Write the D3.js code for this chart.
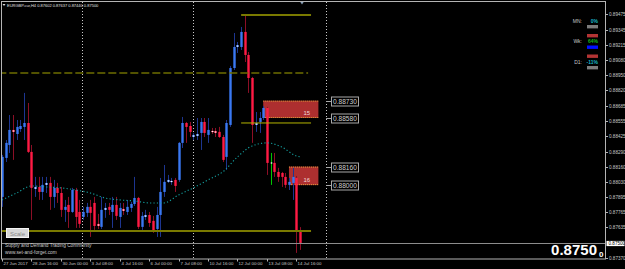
<!DOCTYPE html>
<html>
<head>
<meta charset="utf-8">
<script src="https://cdn.jsdelivr.net/npm/d3@7"></script>
<style>
  html, body { margin: 0; padding: 0; background: #000; }
  svg { display: block; }
  text { font-family: "Liberation Sans", Arial, sans-serif; }
</style>
</head>
<body>
<svg id="chart" width="625" height="269"></svg>
<script>
// EURGBP H4, 27 Jun 08:00 .. 14 Jul 20:00
const symbol = 'EURGBP.cur,H4'

const opens = [
  0.87898, 0.88235, 0.88347, 0.88477, 0.88442, 0.88485, 0.88503, 0.88537, 0.88287, 0.87967,
  0.87984, 0.87941, 0.88002, 0.88019, 0.87898, 0.87976, 0.87932, 0.87786, 0.87829, 0.87768,
  0.87958, 0.87768, 0.87725, 0.87760, 0.87812, 0.87846, 0.87665, 0.87639, 0.87786, 0.87812,
  0.87768, 0.87829, 0.87725, 0.87794, 0.87768, 0.87803, 0.87837, 0.87889, 0.87639, 0.87725,
  0.87742, 0.87691, 0.87621, 0.87742, 0.87941, 0.88028, 0.88028, 0.88045, 0.88045, 0.88365,
  0.88537, 0.88511, 0.88416, 0.88425, 0.88451, 0.88546, 0.88434, 0.88468, 0.88468, 0.88460,
  0.88416, 0.88244, 0.88520, 0.89012, 0.89194, 0.89194, 0.89324, 0.89125, 0.88926, 0.88520,
  0.88546, 0.88580, 0.88667, 0.88192, 0.88192, 0.88114, 0.88105, 0.88071, 0.88002, 0.88019,
  0.88062, 0.87602
]
const highs = [
  0.88261, 0.88390, 0.88606, 0.88606, 0.88563, 0.88563, 0.88797, 0.88710, 0.88347, 0.88071,
  0.88071, 0.88071, 0.88071, 0.88071, 0.88045, 0.88019, 0.87984, 0.87872, 0.87898, 0.87976,
  0.87976, 0.87872, 0.87812, 0.87846, 0.87872, 0.87898, 0.87751, 0.87898, 0.87846, 0.87846,
  0.87898, 0.87898, 0.87846, 0.87846, 0.87872, 0.87855, 0.88071, 0.87898, 0.87768, 0.87786,
  0.87768, 0.87734, 0.87812, 0.88062, 0.88174, 0.88088, 0.88062, 0.88062, 0.88373, 0.88589,
  0.88546, 0.88546, 0.88451, 0.88580, 0.88580, 0.88580, 0.88580, 0.88494, 0.88494, 0.88503,
  0.88434, 0.88563, 0.89030, 0.89315, 0.89237, 0.89367, 0.89470, 0.89151, 0.88935, 0.88632,
  0.88632, 0.88684, 0.88676, 0.88278, 0.88278, 0.88149, 0.88114, 0.88105, 0.88062, 0.88149,
  0.88079, 0.87637
]
const lows = [
  0.87812, 0.88200, 0.88278, 0.88218, 0.88390, 0.88460, 0.88390, 0.88278, 0.87699, 0.87898,
  0.87872, 0.87872, 0.87932, 0.87786, 0.87803, 0.87846, 0.87725, 0.87682, 0.87630, 0.87760,
  0.87630, 0.87630, 0.87699, 0.87725, 0.87552, 0.87613, 0.87621, 0.87621, 0.87717, 0.87742,
  0.87630, 0.87699, 0.87630, 0.87742, 0.87742, 0.87768, 0.87820, 0.87621, 0.87613, 0.87699,
  0.87639, 0.87587, 0.87552, 0.87552, 0.87898, 0.88019, 0.88002, 0.87941, 0.88028, 0.88321,
  0.88365, 0.88416, 0.88390, 0.88390, 0.88304, 0.88416, 0.88365, 0.88442, 0.88416, 0.88408,
  0.88200, 0.88131, 0.88503, 0.88995, 0.89142, 0.89168, 0.89064, 0.88797, 0.88365, 0.88460,
  0.88451, 0.88563, 0.88088, 0.88002, 0.88071, 0.88028, 0.87984, 0.87976, 0.87958, 0.87872,
  0.87414, 0.87440
]
const closes = [
  0.88244, 0.88365, 0.88477, 0.88460, 0.88503, 0.88511, 0.88537, 0.88287, 0.87976, 0.87984,
  0.87941, 0.88002, 0.88019, 0.87898, 0.87976, 0.87932, 0.87786, 0.87812, 0.87768, 0.87958,
  0.87725, 0.87665, 0.87768, 0.87812, 0.87760, 0.87647, 0.87647, 0.87786, 0.87803, 0.87786,
  0.87829, 0.87734, 0.87803, 0.87777, 0.87812, 0.87837, 0.87889, 0.87639, 0.87734, 0.87742,
  0.87673, 0.87604, 0.87742, 0.87941, 0.88028, 0.88045, 0.88036, 0.87993, 0.88365, 0.88537,
  0.88503, 0.88460, 0.88434, 0.88442, 0.88546, 0.88451, 0.88477, 0.88460, 0.88451, 0.88416,
  0.88218, 0.88537, 0.89012, 0.89194, 0.89211, 0.89324, 0.89125, 0.88926, 0.88520, 0.88537,
  0.88580, 0.88667, 0.88192, 0.88192, 0.88114, 0.88071, 0.88071, 0.88002, 0.88028, 0.88071,
  0.87596, 0.87500
]

// moving average, every 4th bar
const maBars = [0, 4, 8, 12, 16, 20, 24, 28, 32, 36, 40, 44, 48, 52, 56, 60, 64, 68, 72, 76, 80, 81]
const maValues = [
  0.87872, 0.87932, 0.87993, 0.87984, 0.87976, 0.87958, 0.87932, 0.87889, 0.87872, 0.87863,
  0.87846, 0.87846, 0.87915, 0.87976, 0.88045, 0.88114, 0.88244, 0.88339, 0.88365, 0.88330,
  0.88252, 0.88244
]

const timeLabels = ['27 Jun 2017', '28 Jun 16:00', '30 Jun 00:00', '3 Jul 08:00', '4 Jul 16:00',
  '6 Jul 00:00', '7 Jul 08:00', '10 Jul 16:00', '12 Jul 00:00', '13 Jul 08:00', '14 Jul 16:00']
const timeLabelBars = [0, 8, 16, 24, 32, 40, 48, 56, 64, 72, 80]

const priceTicks = [0.89475, 0.89345, 0.89215, 0.89080, 0.88950, 0.88820, 0.88685, 0.88555,
  0.88425, 0.88290, 0.88160, 0.88030, 0.87895, 0.87765, 0.87635, 0.87370]
const lastPrice = 0.87500

const weekStartBars = [21.8, 51.9, 88.1]

const levelNames = ['swingHigh', 'prevHigh', 'entry', 'swingLow']
const levelPrices = [0.89470, 0.88969, 0.88537, 0.87604]
const levelStart = [65, -1, 65, -1]
const levelEnd = [84, 83.2, 84, 84]

const zoneNames = ['15', '16']
const zoneTop = [0.88730, 0.88160]
const zoneBottom = [0.88580, 0.88000]
const zoneStart = [71, 78]
const zoneEnd = [86, 86]

const tagPrices = [0.88730, 0.88580, 0.88160, 0.88000]

const tfNames = ['MN:', 'Wk:', 'D1:']
const tfPercents = ['0%', '64%', '-11%']
const tfSignals = [['flat', 'down'], ['up', 'down'], ['flat']]

const svg = d3.select('#chart')
const W = 625
const H = 269
const plotRight = 605.5
const plotBottom = 259

svg.append('rect').attr('width', W).attr('height', H).attr('fill', '#000')

const x = d3.scaleLinear().domain([0, 81]).range([2, 300])
const y = d3.scaleLinear().domain([0.8737, 0.896]).range([258, 0])

svg.append('clipPath').attr('id', 'plot')
  .append('rect').attr('x', 1.5).attr('y', 1.5).attr('width', plotRight - 1.5).attr('height', plotBottom - 1.5)

const plot = svg.append('g').attr('clip-path', 'url(#plot)')

// week separators
plot.append('g').selectAll('line')
  .data(weekStartBars)
  .join('line')
  .attr('x1', d => Math.round(x(d)) + 0.5)
  .attr('x2', d => Math.round(x(d)) + 0.5)
  .attr('y1', 2)
  .attr('y2', plotBottom)
  .attr('stroke', '#c8c8c8')
  .attr('stroke-dasharray', '1,2')

// supply / demand zones
const zones = zoneNames.map((name, i) => ({ name, top: zoneTop[i], bottom: zoneBottom[i], start: zoneStart[i], end: zoneEnd[i] }))
const zoneG = plot.append('g').selectAll('g').data(zones).join('g')
zoneG.append('rect')
  .attr('x', d => x(d.start))
  .attr('y', d => y(d.top))
  .attr('width', d => x(d.end) - x(d.start))
  .attr('height', d => y(d.bottom) - y(d.top))
  .attr('fill', '#ad2f2f')
zoneG.append('line')
  .attr('x1', d => x(d.start)).attr('x2', d => x(d.end))
  .attr('y1', d => y(d.top) + 0.5).attr('y2', d => y(d.top) + 0.5)
  .attr('stroke', '#d9a03a').attr('stroke-dasharray', '1,1')
zoneG.append('line')
  .attr('x1', d => x(d.start)).attr('x2', d => x(d.end))
  .attr('y1', d => y(d.bottom) - 0.5).attr('y2', d => y(d.bottom) - 0.5)
  .attr('stroke', '#d9a03a').attr('stroke-dasharray', '1,1')
zoneG.append('text')
  .attr('x', d => x(d.end) - 15)
  .attr('y', d => y(d.bottom) - 3)
  .attr('font-size', 6)
  .attr('fill', '#f2d6d6')
  .text(d => d.name)

// candles
const bars = opens.map((o, i) => ({ i, o, h: highs[i], l: lows[i], c: closes[i] }))
const wickColor = d => d.c > d.o ? '#1d3590' : d.c < d.o ? '#8c0f26' : '#00c800'
const bodyColor = d => d.c > d.o ? '#3a78f2' : '#ff1a44'

const candle = plot.append('g').selectAll('g').data(bars).join('g')
candle.append('line')
  .attr('x1', d => Math.round(x(d.i)) + 0.5)
  .attr('x2', d => Math.round(x(d.i)) + 0.5)
  .attr('y1', d => y(d.h))
  .attr('y2', d => y(d.l))
  .attr('stroke', wickColor)
candle.filter(d => d.c !== d.o).append('rect')
  .attr('x', d => Math.round(x(d.i)) - 0.7)
  .attr('y', d => y(Math.max(d.o, d.c)))
  .attr('width', 2.4)
  .attr('height', d => Math.max(1, Math.abs(y(d.o) - y(d.c))))
  .attr('fill', bodyColor)
candle.filter(d => Math.abs(y(d.o) - y(d.c)) < 3).append('rect')
  .attr('x', d => Math.round(x(d.i)) - 0.3)
  .attr('y', d => y((d.o + d.c) / 2) - 0.5)
  .attr('width', 1.6)
  .attr('height', 1.2)
  .attr('fill', '#fff')

// moving average
const maLine = d3.line()
  .x((d, i) => x(maBars[i]))
  .y(d => y(d))
  .curve(d3.curveMonotoneX)
plot.append('path')
  .attr('d', maLine(maValues))
  .attr('fill', 'none')
  .attr('stroke', '#14a0a0')
  .attr('stroke-width', 1.1)
  .attr('stroke-dasharray', '1.2,2.2')

// horizontal levels
const levelStyle = {
  swingHigh: { color: '#7a7a00', width: 2, dash: null },
  prevHigh: { color: '#6e6e00', width: 1.5, dash: '8,3' },
  entry: { color: '#b4b400', width: 1, dash: null },
  swingLow: { color: '#7a7a00', width: 2, dash: null }
}
plot.append('g').selectAll('line')
  .data(levelNames.map((name, i) => ({ name, price: levelPrices[i], start: levelStart[i], end: levelEnd[i] })))
  .join('line')
  .attr('x1', d => x(d.start))
  .attr('x2', d => x(d.end))
  .attr('y1', d => y(d.price))
  .attr('y2', d => y(d.price))
  .attr('stroke', d => levelStyle[d.name].color)
  .attr('stroke-width', d => levelStyle[d.name].width)
  .attr('stroke-dasharray', d => levelStyle[d.name].dash)

// bid line
plot.append('line')
  .attr('x1', 1).attr('x2', plotRight)
  .attr('y1', Math.round(y(lastPrice)) + 0.5).attr('y2', Math.round(y(lastPrice)) + 0.5)
  .attr('stroke', '#8c8c8c')

// price tags for the zones
const tagX = 331
const tags = plot.append('g').selectAll('g').data(tagPrices).join('g')
tags.append('line')
  .attr('x1', x(weekStartBars[2])).attr('x2', tagX)
  .attr('y1', d => Math.round(y(d)) + 0.5).attr('y2', d => Math.round(y(d)) + 0.5)
  .attr('stroke', '#a8a8a8')
tags.append('rect')
  .attr('x', tagX + 0.5)
  .attr('y', d => Math.round(y(d)) - 4)
  .attr('width', 27)
  .attr('height', 9)
  .attr('fill', '#000')
  .attr('stroke', '#a8a8a8')
tags.append('text')
  .attr('x', tagX + 2)
  .attr('y', d => Math.round(y(d)) + 3)
  .attr('font-size', 6.6)
  .attr('fill', '#d0d0d0')
  .text(d => d.toFixed(5))

// chart-shift marker
svg.append('path')
  .attr('d', 'M300,1.5 L304,1.5 L302,4.5 Z')
  .attr('fill', '#8aa0b8')

// frame
svg.append('rect')
  .attr('x', 1.5).attr('y', 1.5)
  .attr('width', plotRight - 1.5).attr('height', plotBottom - 1.5)
  .attr('fill', 'none')
  .attr('stroke', '#b4b4b4')

// price axis
const yAxis = svg.append('g').selectAll('g').data(priceTicks).join('g')
  .attr('transform', d => `translate(${plotRight},${Math.round(y(d)) + 0.5})`)
yAxis.append('line').attr('x1', 0).attr('x2', 2.5).attr('stroke', '#b4b4b4')
yAxis.append('text')
  .attr('x', 3.5).attr('y', 1.6)
  .attr('font-size', 4.6)
  .attr('fill', '#c8c8c8')
  .text(d => d.toFixed(5))

const bidTag = svg.append('g').attr('transform', `translate(${plotRight},${Math.round(y(lastPrice)) + 0.5})`)
bidTag.append('rect').attr('x', 1).attr('y', -2.6).attr('width', 18).attr('height', 5.2).attr('fill', '#fff')
bidTag.append('text').attr('x', 3).attr('y', 1.6).attr('font-size', 4.6).attr('fill', '#000').text(lastPrice.toFixed(5))

// time axis
const xAxis = svg.append('g').selectAll('g').data(timeLabelBars).join('g')
  .attr('transform', d => `translate(${Math.round(x(d)) + 0.5},${plotBottom})`)
xAxis.append('line').attr('y1', 0).attr('y2', 2.5).attr('stroke', '#b4b4b4')
xAxis.append('text')
  .attr('x', 1).attr('y', 6)
  .attr('font-size', 4.4)
  .attr('fill', '#c8c8c8')
  .text((d, i) => timeLabels[i])

// title line
svg.append('path').attr('d', 'M2.5,4 L5.5,4 L4,6 Z').attr('fill', '#ddd')
svg.append('text')
  .attr('x', 7).attr('y', 6.5)
  .attr('font-size', 4)
  .attr('fill', '#e0e0e0')
  .text(`${symbol}  ${opens[81].toFixed(5)} ${highs[81].toFixed(5)} ${lows[81].toFixed(5)} ${closes[81].toFixed(5)}`)

// trend panel, top right
const signalColor = { up: '#0010ff', down: '#b33434', flat: '#7c7c7c' }
tfNames.forEach((name, i) => {
  const ty = 22.5 + i * 20.5
  svg.append('text').attr('x', 582).attr('y', ty).attr('text-anchor', 'end')
    .attr('font-size', 5).attr('fill', '#c8c8c8').text(name)
  svg.append('text').attr('x', 598).attr('y', ty).attr('text-anchor', 'end')
    .attr('font-size', 5).attr('font-weight', 'bold')
    .attr('fill', i === 1 ? '#19b819' : '#19b8c8').text(tfPercents[i])
  tfSignals[i].forEach((s, j) => {
    svg.append('rect')
      .attr('x', 587).attr('y', ty + 2.5 + j * 9)
      .attr('width', 11).attr('height', 3.4)
      .attr('fill', signalColor[s])
  })
})

// scale button and footer
svg.append('rect').attr('x', 6.5).attr('y', 228.5).attr('width', 22).attr('height', 9)
  .attr('fill', '#d6d6d6').attr('stroke', '#f4f4f4')
svg.append('text').attr('x', 17.5).attr('y', 235.5).attr('text-anchor', 'middle')
  .attr('font-size', 6).attr('fill', '#8a8a8a').text('Scale')
svg.append('text').attr('x', 5).attr('y', 246.5).attr('font-size', 4.8).attr('fill', '#c8c8c8')
  .text('Supply and Demand Trading Community')
svg.append('text').attr('x', 5).attr('y', 254).attr('font-size', 4.8).attr('fill', '#c8c8c8')
  .text('www.set-and-forget.com')

// big bid price
const bidStr = lastPrice.toFixed(5)
svg.append('text').attr('x', 597).attr('y', 255).attr('text-anchor', 'end')
  .attr('font-size', 15).attr('font-weight', 'bold').attr('fill', '#fff')
  .text(bidStr.slice(0, 6))
svg.append('text').attr('x', 599).attr('y', 256.5)
  .attr('font-size', 8).attr('font-weight', 'bold').attr('fill', '#fff')
  .text(bidStr.slice(6))
</script>
</body>
</html>
